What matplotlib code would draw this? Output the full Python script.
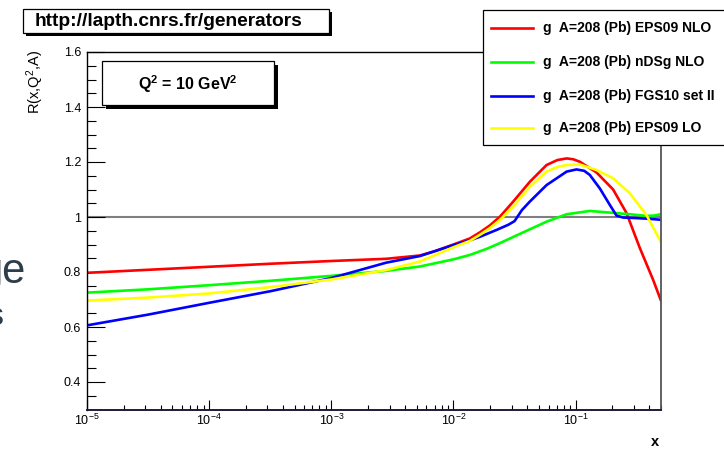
import numpy as np
import matplotlib
matplotlib.use("Agg")
import matplotlib.pyplot as plt
from matplotlib.patches import Rectangle
from matplotlib.lines import Line2D
from matplotlib.ticker import FixedLocator, LogLocator, NullFormatter

plt.rcParams['font.family'] = ['Liberation Sans', 'DejaVu Sans']
plt.rcParams['mathtext.fontset'] = 'custom'
plt.rcParams['mathtext.rm'] = 'Liberation Sans'
plt.rcParams['mathtext.it'] = 'Liberation Sans:italic'
plt.rcParams['mathtext.bf'] = 'Liberation Sans:bold'

# ---------------------------------------------------------------- data
# nuclear modification of the gluon, A=208 (Pb), Q^2 = 10 GeV^2
series_names = [
    "g  A=208 (Pb) EPS09 NLO",
    "g  A=208 (Pb) nDSg NLO",
    "g  A=208 (Pb) FGS10 set II",
    "g  A=208 (Pb) EPS09 LO",
]
series_colors = ["#ff0000", "#00ff00", "#0000ff", "#ffff00"]

eps09nlo_log10x = [-5.0, -4.5, -4.0, -3.5, -3.0, -2.55, -2.275, -2.15, -2.0, -1.866,
                   -1.784, -1.70, -1.62, -1.511, -1.375, -1.238, -1.15, -1.074, -1.02,
                   -0.966, -0.829, -0.693, -0.584, -0.475, -0.366, -0.303]
eps09nlo_r = [0.797, 0.808, 0.819, 0.830, 0.840, 0.848, 0.860, 0.876, 0.900, 0.922,
              0.944, 0.970, 1.001, 1.056, 1.128, 1.189, 1.207, 1.213, 1.210,
              1.201, 1.162, 1.100, 1.015, 0.888, 0.772, 0.698]

ndsg_log10x = [-5.0, -4.5, -4.0, -3.5, -3.0, -2.55, -2.275, -2.0, -1.866, -1.729,
               -1.62, -1.43, -1.238, -1.074, -0.884, -0.693, -0.556, -0.420, -0.36, -0.303]
ndsg_r = [0.725, 0.737, 0.752, 0.768, 0.786, 0.804, 0.820, 0.846, 0.862, 0.884,
          0.905, 0.944, 0.983, 1.010, 1.022, 1.015, 1.010, 1.004, 1.005, 1.010]

fgs10_log10x = [-5.0, -4.5, -4.0, -3.5, -3.0, -2.55, -2.275, -2.0, -1.866, -1.784,
                -1.647, -1.55, -1.50, -1.44, -1.375, -1.238, -1.074, -0.993, -0.93,
                -0.884, -0.802, -0.720, -0.665, -0.611, -0.50, -0.420, -0.303]
fgs10_r = [0.606, 0.645, 0.688, 0.730, 0.778, 0.834, 0.858, 0.898, 0.915, 0.928,
           0.953, 0.972, 0.985, 1.025, 1.056, 1.116, 1.165, 1.173, 1.168,
           1.153, 1.104, 1.044, 1.005, 0.998, 0.996, 0.994, 0.990]

eps09lo_log10x = [-5.0, -4.5, -4.0, -3.5, -3.0, -2.55, -2.275, -2.0, -1.866, -1.784,
                  -1.70, -1.62, -1.511, -1.375, -1.238, -1.15, -1.074, -0.966, -0.829,
                  -0.693, -0.556, -0.420, -0.303]
eps09lo_r = [0.696, 0.707, 0.722, 0.745, 0.773, 0.807, 0.838, 0.890, 0.913, 0.935,
             0.960, 0.989, 1.038, 1.110, 1.165, 1.182, 1.189, 1.191, 1.171,
             1.141, 1.086, 1.007, 0.910]

series_log10x = [eps09nlo_log10x, ndsg_log10x, fgs10_log10x, eps09lo_log10x]
series_r = [eps09nlo_r, ndsg_r, fgs10_r, eps09lo_r]

x_ticks = [1e-5, 1e-4, 1e-3, 1e-2, 1e-1]
x_tick_labels = [r"$10^{-5}$", r"$10^{-4}$", r"$10^{-3}$", r"$10^{-2}$", r"$10^{-1}$"]
y_ticks = [0.4, 0.6, 0.8, 1.0, 1.2, 1.4, 1.6]
y_tick_labels = ["0.4", "0.6", "0.8", "1", "1.2", "1.4", "1.6"]
y_minor_ticks = [0.35, 0.45, 0.5, 0.55, 0.65, 0.7, 0.75, 0.85, 0.9, 0.95, 1.05,
                 1.1, 1.15, 1.25, 1.3, 1.35, 1.45, 1.5, 1.55]

# ---------------------------------------------------------------- canvas
W, H = 724, 450
fig = plt.figure(figsize=(W / 100, H / 100), dpi=100)


def fx(px):
    return px / W


def fy(py):
    return 1 - py / H


ax = fig.add_axes([fx(87), fy(409.5), fx(661) - fx(87), fy(52) - fy(409.5)])

ax.axhline(1.0, color="#7f7f7f", lw=1.5, zorder=1)
for lx, r, c, name in zip(series_log10x, series_r, series_colors, series_names):
    ax.plot(10 ** np.array(lx), r, color=c, lw=1.9, label=name, zorder=2,
            solid_joinstyle="round")

ax.set_xscale("log")
ax.set_xlim(1e-5, 0.5)
ax.set_ylim(0.3, 1.6)

ax.xaxis.set_major_locator(FixedLocator(x_ticks))
ax.set_xticklabels(x_tick_labels)
ax.xaxis.set_minor_locator(LogLocator(base=10, subs=np.arange(2, 10)))
ax.xaxis.set_minor_formatter(NullFormatter())
ax.set_yticks(y_ticks)
ax.set_yticklabels(y_tick_labels)
ax.set_yticks(y_minor_ticks, minor=True)

ax.tick_params(axis="y", which="major", direction="in", length=13, width=0.8,
               pad=4.3, labelsize=9, left=True, right=False)
ax.tick_params(axis="y", which="minor", direction="in", length=6.5, width=0.8,
               left=True, right=False)
ax.tick_params(axis="x", which="major", direction="in", length=7.2, width=0.8,
               pad=2.5, labelsize=9, bottom=True, top=False)
ax.tick_params(axis="x", which="minor", direction="in", length=3.6, width=0.8,
               bottom=True, top=False)

for side in ("left", "top"):
    ax.spines[side].set_linewidth(1.0)
    ax.spines[side].set_color("black")
ax.spines["bottom"].set_linewidth(1.4)
ax.spines["bottom"].set_color("#1c1c3a")
ax.spines["right"].set_linewidth(1.3)
ax.spines["right"].set_color("#555555")


def box(x0, y0, x1, y1, shadow=0.0, z=5):
    if shadow:
        fig.add_artist(Rectangle((fx(x0 + shadow), fy(y1 + shadow)),
                                 fx(x1) - fx(x0), fy(y0) - fy(y1),
                                 transform=fig.transFigure, facecolor="black",
                                 edgecolor="none", zorder=z))
    fig.add_artist(Rectangle((fx(x0), fy(y1)), fx(x1) - fx(x0), fy(y0) - fy(y1),
                             transform=fig.transFigure, facecolor="white",
                             edgecolor="black", lw=0.9, zorder=z + 0.1))


# banner
box(22.7, 9.3, 329, 33, shadow=3)
fig.text(fx(35), fy(21.5), "http://lapth.cnrs.fr/generators", fontsize=13.8,
         fontweight="bold", ha="left", va="center", zorder=6)

# scale box
box(101.7, 60.7, 274, 105, shadow=4)
fig.text(fx(188), fy(84), r"Q$^{\mathbf{2}}$ = 10 GeV$^{\mathbf{2}}$", fontsize=11.5,
         fontweight="bold", ha="center", va="center", zorder=6)

# legend
box(482.7, 10, 740, 145)
row_y = [27.7, 61.7, 95.7, 127.7]
for yy, c, name in zip(row_y, series_colors, series_names):
    fig.add_artist(Line2D([fx(491), fx(533)], [fy(yy), fy(yy)], color=c, lw=1.9,
                          transform=fig.transFigure, zorder=6))
    fig.text(fx(543), fy(yy), name, fontsize=10, fontweight="bold",
             ha="left", va="center", zorder=6)

# axis titles
fig.text(fx(35), fy(50), r"R(x,Q$^{2}$,A)", rotation=90, fontsize=10.5,
         ha="center", va="top")
fig.text(fx(659), fy(449), "x", fontsize=10.5, fontweight="bold",
         ha="right", va="bottom")

# slide text peeking in at the left edge
fig.text(fx(25.5), fy(283), "ge", fontsize=30, color="#2d3e4b",
         ha="right", va="baseline")
fig.text(fx(3.5), fy(325), "s", fontsize=23, color="#2d3e4b",
         ha="right", va="baseline")

fig.savefig("out.png", dpi=100)
